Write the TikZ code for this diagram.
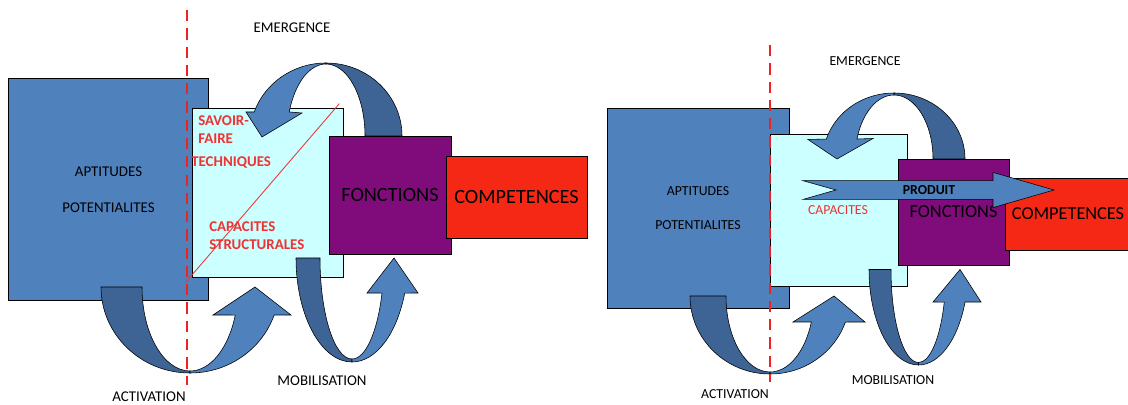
\documentclass[tikz,border=0pt]{standalone}
\usepackage{fontspec}
\setmainfont{Carlito}
\usepackage{xcolor}
\definecolor{aptblue}{RGB}{79,129,189}
\definecolor{ribbondark}{RGB}{61,100,148}
\definecolor{capcyan}{RGB}{204,255,255}
\definecolor{foncpurple}{RGB}{128,12,124}
\definecolor{compred}{RGB}{245,40,22}
\definecolor{cutred}{RGB}{238,34,34}
\definecolor{labelred}{RGB}{240,50,50}
\usetikzlibrary{calc}

\begin{document}
\begin{tikzpicture}[x=0.025cm, y=-0.025cm,
  every node/.style={inner sep=0pt},
  box/.style={draw=black, line width=0.5pt},
  ribbon/.style={draw=black, line width=0.4pt, fill=aptblue},
  ribbonback/.style={draw=black, line width=0.4pt, fill=ribbondark},
  cut/.style={cutred, line width=2pt, dash pattern=on 8pt off 5pt},
  lbl/.style={font=\fontsize{10.6}{12}\selectfont},
  lblR/.style={font=\fontsize{9.8}{11}\selectfont},
  redlbl/.style={labelred, font=\fontsize{10.6}{12.8}\selectfont\bfseries},
  big/.style={font=\fontsize{14.4}{16}\selectfont},
  bigR/.style={font=\fontsize{13}{15}\selectfont}]
\useasboundingbox (0,0) rectangle (1128,405);

% Left diagram: boxes
\node[box, fill=aptblue, minimum width=5cm, minimum height=5.55cm, lbl, align=center] (aptL) at (108.5,189.5) {APTITUDES\\[14pt]POTENTIALITES};
\node[box, fill=capcyan, minimum width=3.775cm, minimum height=4.225cm] (capL) at (267.5,192.5) {};
\draw[labelred, line width=0.6pt] ($(capL.south west)+(-6,5)$) -- ($(capL.north east)+(-4,-4)$);
\node[box, fill=foncpurple, minimum width=3.05cm, minimum height=2.95cm, big] (foncL) at (390,195) {FONCTIONS};
\node[box, fill=compred, minimum width=3.525cm, minimum height=2.05cm, big] (compL) at (516.5,197) {COMPETENCES};

% Left diagram: curved arrows
\coordinate (emL) at (326,136);
\coordinate (acL) at (190,287);
\coordinate (moL) at (352,258);
\filldraw[ribbonback] ($(emL)+(0:76 and 73)$) arc[start angle=0, end angle=-90, x radius=76, y radius=73]
  -- ($(emL)+(-90:39 and 72)$) arc[start angle=-90, end angle=0, x radius=39, y radius=72] -- cycle;
\filldraw[ribbon] ($(emL)+(-90:76 and 73)$) arc[start angle=-90, end angle=-160.8, x radius=76, y radius=73]
  -- (246,112) -- (262,137) -- (302,113)
  -- ($(emL)+(-160.5:39 and 72)$) arc[start angle=-160.5, end angle=-90, x radius=39, y radius=72] -- cycle;
\filldraw[ribbonback] ($(acL)+(180:89 and 86)$) arc[start angle=180, end angle=90, x radius=89, y radius=86]
  -- ($(acL)+(90:48 and 84)$) arc[start angle=90, end angle=180, x radius=48, y radius=84] -- cycle;
\filldraw[ribbon] ($(acL)+(90:89 and 86)$) arc[start angle=90, end angle=19, x radius=89, y radius=86]
  -- (291,315) -- (255,287) -- (213,315)
  -- ($(acL)+(19.5:48 and 84)$) arc[start angle=19.5, end angle=90, x radius=48, y radius=84] -- cycle;
\filldraw[ribbonback] ($(moL)+(180:56 and 104)$) arc[start angle=180, end angle=90, x radius=56, y radius=104]
  -- ($(moL)+(90:32 and 101)$) arc[start angle=90, end angle=180, x radius=32, y radius=101] -- cycle;
\filldraw[ribbon] ($(moL)+(90:56 and 104)$) arc[start angle=90, end angle=19.7, x radius=56, y radius=104]
  -- (418,293) -- (394,258) -- (367,293)
  -- ($(moL)+(20.3:32 and 101)$) arc[start angle=20.3, end angle=90, x radius=32, y radius=101] -- cycle;

% Left diagram: cut line and labels
\coordinate (cutLtop) at (187,10);
\coordinate (cutLbot) at (187,385);
\draw[cut] (cutLtop) -- (cutLbot);
\node[redlbl, anchor=west, align=left] (savoirL) at (198,130) {SAVOIR-\\FAIRE};
\node[redlbl, anchor=west] (techL) at (191,163) {TECHNIQUES};
\node[redlbl, anchor=west, align=left] (structL) at (209,236) {CAPACITES\\STRUCTURALES};
\node[lbl] (emergL) at (292,28) {EMERGENCE};
\node[lbl] (activL) at (149,397) {ACTIVATION};
\node[lbl] (mobilL) at (322,381) {MOBILISATION};

% Right diagram: boxes
\node[box, fill=aptblue, minimum width=4.55cm, minimum height=5cm, lblR, align=center] (aptR) at (698,208) {APTITUDES\\[13pt]POTENTIALITES};
\node[box, fill=capcyan, minimum width=3.425cm, minimum height=3.8cm] (capR) at (838.5,210) {};
\node[box, fill=foncpurple, minimum width=2.775cm, minimum height=2.65cm, bigR] (foncR) at (953.5,212) {FONCTIONS};
\node[box, fill=compred, minimum width=3.15cm, minimum height=1.8cm, bigR] (compR) at (1068,214) {COMPETENCES};

% Right diagram: curved arrows
\coordinate (emR) at (894,159);
\coordinate (acR) at (770,296);
\coordinate (moR) at (918.5,269.5);
\filldraw[ribbonback] ($(emR)+(0:71 and 66)$) arc[start angle=0, end angle=-90, x radius=71, y radius=66]
  -- ($(emR)+(-90:39 and 64)$) arc[start angle=-90, end angle=0, x radius=39, y radius=64] -- cycle;
\filldraw[ribbon] ($(emR)+(-90:71 and 66)$) arc[start angle=-90, end angle=-162.4, x radius=71, y radius=66]
  -- (808,139.5) -- (837,159) -- (873,138.5)
  -- ($(emR)+(-161.8:39 and 64)$) arc[start angle=-161.8, end angle=-90, x radius=39, y radius=64] -- cycle;
\filldraw[ribbonback] ($(acR)+(180:80 and 78)$) arc[start angle=180, end angle=90, x radius=80, y radius=78]
  -- ($(acR)+(90:44 and 76)$) arc[start angle=90, end angle=180, x radius=44, y radius=76] -- cycle;
\filldraw[ribbon] ($(acR)+(90:80 and 78)$) arc[start angle=90, end angle=19.5, x radius=80, y radius=78]
  -- (865,322) -- (834,296) -- (793,322)
  -- ($(acR)+(20:44 and 76)$) arc[start angle=20, end angle=90, x radius=44, y radius=76] -- cycle;
\filldraw[ribbonback] ($(moR)+(180:49.5 and 95.5)$) arc[start angle=180, end angle=90, x radius=49.5, y radius=95.5]
  -- ($(moR)+(90:27.5 and 93)$) arc[start angle=90, end angle=180, x radius=27.5, y radius=93] -- cycle;
\filldraw[ribbon] ($(moR)+(90:49.5 and 95.5)$) arc[start angle=90, end angle=19.9, x radius=49.5, y radius=95.5]
  -- (981,302) -- (960,269.5) -- (933,302)
  -- ($(moR)+(20.5:27.5 and 93)$) arc[start angle=20.5, end angle=90, x radius=27.5, y radius=93] -- cycle;

% Produit arrow
\filldraw[ribbon] (803,180.7) -- (993,180.7) -- (993,172.4) -- (1054,190) -- (993,207.6)
  -- (993,199.4) -- (803,199.4) -- (836,190) -- cycle;
\node[lblR, font=\fontsize{9.8}{11}\selectfont\bfseries] (produitR) at (929,190) {PRODUIT};

% Right diagram: cut line and labels
\coordinate (cutRtop) at (770,45);
\coordinate (cutRbot) at (770,382);
\draw[cut] (cutRtop) -- (cutRbot);
\node[lblR, labelred] (capacR) at (838,210) {CAPACITES};
\node[lblR] (emergR) at (865,61) {EMERGENCE};
\node[lblR] (activR) at (735,394.5) {ACTIVATION};
\node[lblR] (mobilR) at (893,380) {MOBILISATION};
\end{tikzpicture}
\end{document}
